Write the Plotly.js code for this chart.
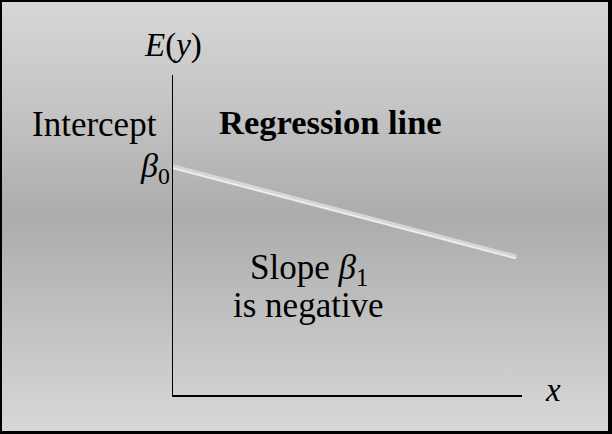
<!DOCTYPE html>
<html><head><meta charset="utf-8">
<script src="https://cdn.plot.ly/plotly-3.0.1.min.js"></script>
<style>
html,body{margin:0;padding:0;}
#wrap{position:relative;width:612px;height:434px;background:linear-gradient(#d7d7d7 0%,#c4c4c4 25%,#acacac 50%,#c2c2c2 75%,#d8d8d8 100%);}
#chart{position:absolute;left:0;top:0;width:612px;height:434px;}
#border{position:absolute;left:0;top:0;right:0;bottom:0;border-style:solid;border-color:#000;border-width:2px 4px 3px 2px;pointer-events:none;}
</style></head>
<body><div id="wrap"><div id="chart"></div><div id="border"></div></div>
<script>
// Regression line endpoints (E(y) = beta0 + beta1 x, beta1 negative)
const lineX = [0, 9.83];
const lineY = [7.13, 4.31];
const xRange = [0, 10];
const yRange = [0, 10];

const fam = "Liberation Serif, Times New Roman, serif";
const f = (s) => ({family: fam, size: s, color: '#000'});
const traces = [
  {x: lineX, y: lineY, mode: 'lines', line: {color: '#d6d6d6', width: 5}, hoverinfo: 'skip', showlegend: false},
  {x: lineX, y: lineY.map(v => v - 0.04), mode: 'lines', line: {color: '#f4f4f4', width: 1.2}, hoverinfo: 'skip', showlegend: false}
];
const layout = {
  width: 612, height: 434,
  margin: {l: 173, r: 90, t: 75, b: 39},
  paper_bgcolor: 'rgba(0,0,0,0)', plot_bgcolor: 'rgba(0,0,0,0)',
  xaxis: {range: xRange, showline: true, linecolor: '#000', linewidth: 1.5, showgrid: false, zeroline: false, showticklabels: false, ticks: ''},
  yaxis: {range: yRange, showline: true, linecolor: '#000', linewidth: 1.5, showgrid: false, zeroline: false, showticklabels: false, ticks: ''},
  font: f(32),
  annotations: [
    {xref: 'paper', yref: 'paper', x: 0, y: 1, yshift: 30, text: '<i>E</i>(<i>y</i>)', font: f(33), showarrow: false, xanchor: 'center', yanchor: 'middle'},
    {xref: 'paper', yref: 'paper', x: 1, y: 0, xshift: 31, yshift: 5, text: '<i>x</i>', font: f(33), showarrow: false, xanchor: 'center', yanchor: 'middle'},
    {xref: 'paper', yref: 'paper', x: 0, y: 1, xshift: -14, yshift: -49, text: 'Intercept', font: f(35), showarrow: false, xanchor: 'right', yanchor: 'middle'},
    {xref: 'paper', yref: 'y', x: 0, y: lineY[0], xshift: -1, yshift: -1, text: '<i>β</i><sub>0</sub>', font: f(34), showarrow: false, xanchor: 'right', yanchor: 'middle'},
    {xref: 'x', yref: 'paper', x: 4.5, y: 1, yshift: -47, text: '<b>Regression line</b>', font: f(34.5), showarrow: false, xanchor: 'center', yanchor: 'middle'},
    {xref: 'x', yref: 'paper', x: 3.9, y: 0, yshift: 126, text: 'Slope <i>β</i><sub>1</sub>', font: f(35), showarrow: false, xanchor: 'center', yanchor: 'middle'},
    {xref: 'x', yref: 'paper', x: 3.87, y: 0, yshift: 90, text: 'is negative', font: f(35), showarrow: false, xanchor: 'center', yanchor: 'middle'}
  ]
};
Plotly.newPlot('chart', traces, layout, {staticPlot: true, displayModeBar: false});
</script></body></html>
